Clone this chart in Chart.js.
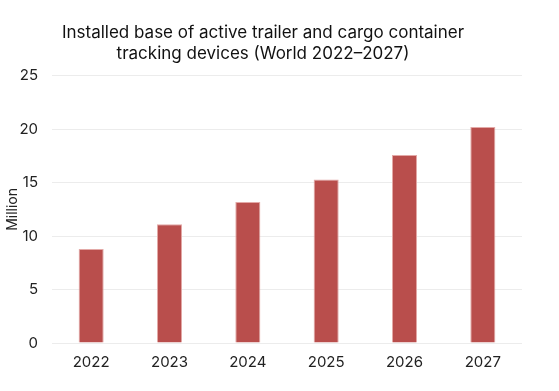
<!DOCTYPE html>
<html>
<head>
<meta charset="utf-8">
<script src="https://cdn.jsdelivr.net/npm/chart.js@4/dist/chart.umd.min.js"></script>
<style>
  html, body { margin: 0; padding: 0; background: #fff; }
  #wrap { width: 559px; height: 391px; }
</style>
</head>
<body>
<div id="wrap"><canvas id="chart"></canvas></div>
<script>
const years = ['2022', '2023', '2024', '2025', '2026', '2027'];
const devices = [8.8, 11.1, 13.2, 15.3, 17.6, 20.2];
const titleLines = ['Installed base of active trailer and cargo container', 'tracking devices (World 2022\u20132027)'];

Chart.defaults.font.family = 'Inter, "Noto Sans", sans-serif';
Chart.defaults.color = '#222';

new Chart(document.getElementById('chart'), {
    type: 'bar',
    data: {
        labels: years,
        datasets: [{
            label: 'Million',
            data: devices,
            backgroundColor: '#b94e4c',
            borderColor: '#e3a9a7',
            borderWidth: 1,
            barPercentage: 0.32,
            categoryPercentage: 1
        }]
    },
    options: {
        responsive: true,
        maintainAspectRatio: false,
        animation: false,
        layout: { padding: { top: 23, right: 37, left: 4, bottom: 18 } },
        plugins: {
            legend: { display: false },
            tooltip: { enabled: false },
            title: {
                display: true,
                text: titleLines,
                font: { size: 17, weight: 'normal' },
                color: '#111',
                padding: { top: 0, bottom: 12 }
            }
        },
        scales: {
            x: {
                grid: { display: false },
                border: { display: false },
                ticks: { font: { size: 15 }, color: '#222', padding: 2 }
            },
            y: {
                min: 0,
                max: 25,
                afterFit: (axis) => { axis.width = 48; },
                ticks: { stepSize: 5, font: { size: 15 }, color: '#222', padding: 6 },
                grid: { color: '#ececec', drawTicks: true, tickColor: 'rgba(0,0,0,0)' },
                border: { display: false },
                title: { display: true, text: 'Million', font: { size: 14 }, color: '#222', padding: 0 }
            }
        }
    }
});
</script>
</body>
</html>
